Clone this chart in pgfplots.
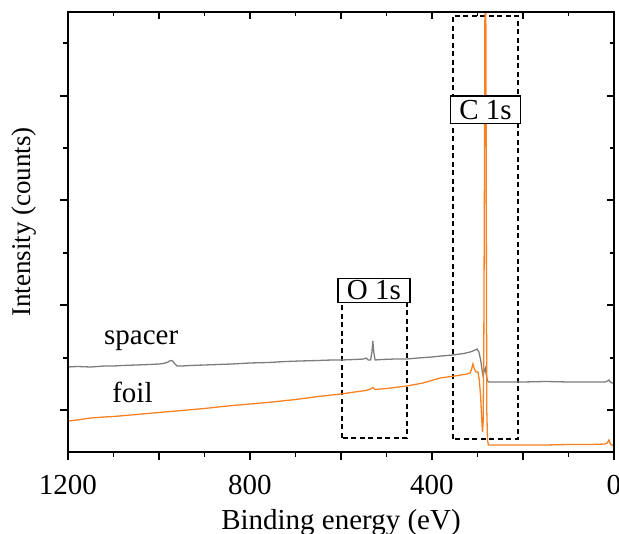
\documentclass[border=0pt]{standalone}
\usepackage{fontspec}
\setmainfont{Liberation Serif}
\usepackage{pgfplots}
\pgfplotsset{compat=1.18}
\definecolor{foilorange}{RGB}{247,129,35}
\definecolor{spacergray}{RGB}{125,125,125}
\newcommand{\bigfont}{\fontsize{29}{33}\selectfont}

\begin{document}
\begin{tikzpicture}
\pgfplotsset{
  common/.style={
    width=546pt, height=440pt, scale only axis,
    xmin=0, xmax=1200, ymin=0, ymax=440, x dir=reverse,
    xtick={0,200,400,600,800,1000,1200},
    minor xtick={100,300,500,700,900,1100},
    ytick={42,147,252,356}, minor ytick={94,199,304,409},
    axis line style={line width=1.5pt, -},
    every tick/.style={line width=1.5pt, black},
    every minor tick/.style={line width=1.5pt, black},
    /pgf/number format/assume math mode=true,
  }
}
\begin{axis}[common,
  tick align=outside, xtick pos=left, ytick pos=left,
  major tick length=8pt, minor tick length=5pt,
  xticklabels={0,,400,,800,,1200},
  yticklabels={},
  xticklabel style={font=\bigfont, anchor=base, yshift=-35pt},
  xlabel={Binding energy (eV)},
  xlabel style={at={(axis description cs:0.5,0)}, anchor=base, yshift=-78pt, font=\bigfont},
  ylabel={Intensity (counts)},
  ylabel style={at={([xshift=-37pt,yshift=10pt]axis description cs:0,0.5)}, anchor=base, font=\fontsize{27}{30}\selectfont},
]
% dashed region boxes
\draw[line width=2.2pt, dash pattern=on 5pt off 3.5pt] (axis cs:598,14) rectangle (axis cs:455,160);
\draw[line width=2.2pt, dash pattern=on 5pt off 3.5pt] (axis cs:354,13) rectangle (axis cs:211,436);

% spacer
\addplot[spacergray, line width=1.3pt] coordinates {
(1200,85) (1180,85.5) (1150,85) (1120,86) (1100,86) (1080,86.5) (1050,87) (1020,87.5)
(1000,88) (990,88.5) (980,90) (975,91.5) (970,91) (965,88) (960,86) (950,86) (930,86.5)
(900,87) (870,87.5) (840,88) (800,89) (760,89.5) (720,90.5) (690,91) (650,91.5) (620,92)
(598,92) (570,92.5) (550,93) (545,94) (540,92) (535,92) (532,100) (530,111) (528,100)
(525,92) (510,92.5) (480,93) (455,93) (430,94) (400,95) (380,96) (354,97) (330,98.5)
(316,100) (305,102) (301,103) (297,100) (293,92) (290,82) (288,77) (286,80) (283,84)
(281,78) (278,71) (275,70) (250,70) (200,70) (150,70.5) (100,70) (60,70) (20,70)
(14,71) (11,72) (8,70) (4,69) (0,69)
};
% foil
\addplot[foilorange, line width=1.3pt] coordinates {
(1200,31) (1180,32) (1150,34) (1120,35) (1100,35.5) (1050,37.5) (1000,39.5) (950,41.5)
(900,43.5) (850,46) (800,48) (750,50) (700,52.5) (650,55.5) (600,58) (570,60) (545,61.5)
(535,63) (530,64.5) (525,62.5) (500,63.5) (455,66) (420,69) (382,74) (350,76) (323,78)
(316,79) (313,83) (310,88) (307,83) (303,80) (299,80) (296,72) (293,55) (291,35)
(289,20) (287.5,30) (286,120) (284.5,300) (283.5,470) (282.5,480) (281.5,420) (280.5,200)
(279.5,40) (278,12) (276,7) (250,7) (200,7) (150,7) (100,7.5) (50,7.5) (20,8) (15,9)
(11,12) (8,8) (5,7) (0,6)
};

\node[anchor=base west, inner sep=0pt, font=\bigfont] at (axis cs:1121,107) {spacer};
\node[anchor=base west, inner sep=0pt, font=\bigfont] at (axis cs:1103,49) {foil};

\node[draw, fill=white, line width=1.5pt, inner xsep=9pt, inner ysep=2.5pt, font=\bigfont] at (axis cs:527.5,161.5) {O 1s};
\node[draw, fill=white, line width=1.5pt, inner xsep=9pt, inner ysep=4pt, font=\bigfont] at (axis cs:282.4,342) {C 1s};
\end{axis}

\begin{axis}[common,
  tick align=inside, xtick pos=right, ytick pos=right,
  major tick length=7pt, minor tick length=4pt,
  xticklabels={}, yticklabels={},
]
\end{axis}

\pgfresetboundingbox
\path[use as bounding box] (-68pt,-82pt) rectangle (551pt,452pt);
\end{tikzpicture}
\end{document}
